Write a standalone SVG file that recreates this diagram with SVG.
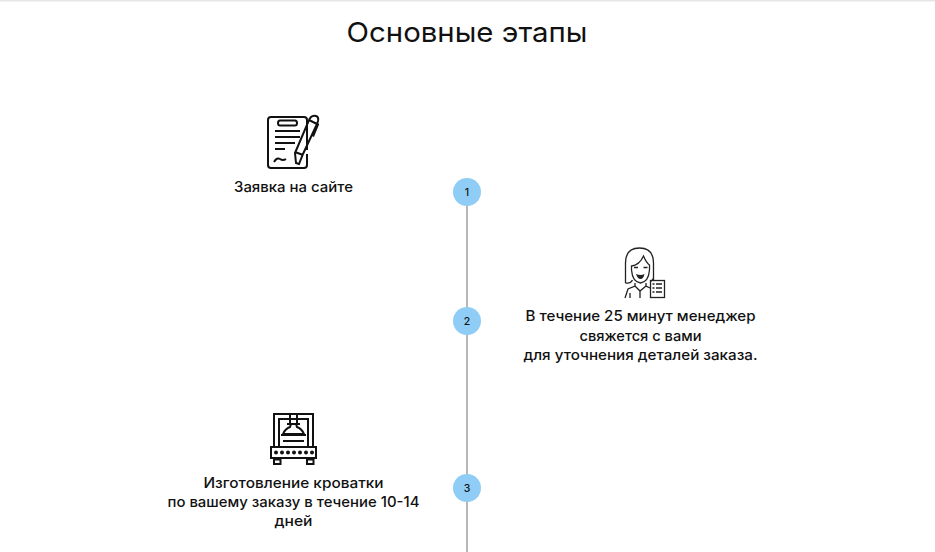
<svg xmlns="http://www.w3.org/2000/svg" width="935" height="552" viewBox="0 0 935 552">
<style>
text{font-family:"Inter","Noto Sans","Liberation Sans",sans-serif;fill:#111;text-anchor:middle}
.t{font-size:14.500px;font-weight:500}
.n{font-size:10.500px;font-weight:500}
.c{fill:#8fcdf7}
.k{fill:none;stroke:#111;stroke-width:2}
.k1{fill:none;stroke:#222;stroke-width:1.300}
</style>
<rect width="935" height="552" fill="#fff"/>
<rect width="935" height="1.5" fill="#e6e6e6"/>
<text x="467" y="42" font-size="27.500" textLength="241" lengthAdjust="spacingAndGlyphs" style="font-weight:400">Основные этапы</text>
<g id="connectors"><path d="M467 192V552" stroke="#aaa" stroke-width="1.700" fill="none"/></g>
<g id="node-1">
<circle class="c" cx="467" cy="192" r="14"/><text class="n" x="467" y="196">1</text>
<path class="k" d="M307 150V120q0-3-3-3H271q-3 0-3 3V165q0 3 3 3H304q3 0 3-3V154" stroke-width="1.800"/>
<path class="k" d="M280 120.500H295q2 0 2 2.500t-2 2.500H280q-2 0-2-2.500t2-2.500z" stroke-width="1.600"/>
<path class="k" d="M275 131H300M275 137H300M275 143H295M275 149H285" stroke-width="1.600"/>
<path class="k" d="M274 162q3-5 6-3t6 0" stroke-width="1.600"/>
<path class="k" d="M309 120l8 4-14 30-4 10-3-1-1-10zM295 152l8 3M309 120l2-3q2-2 5-1 3 1 2 5l-1 3M315 123l3 1.500-5 12" stroke-width="1.600"/>
<text class="t" x="293.500" y="192" textLength="119" lengthAdjust="spacingAndGlyphs">Заявка на сайте</text>
</g>
<g id="node-2">
<circle class="c" cx="467" cy="321" r="14"/><text class="n" x="467" y="325">2</text>
<path class="k1" d="M625.500 283V263q0-15 14-15t14 15V280M625.500 283q5 1 7-3M653.500 278q-1 3-3 3"/>
<path class="k1" d="M631.500 266q8-1 12-10 3 7 6 9v5q-1 12-9 13-8-1-9-13zM634 267.500h4M643.500 267.500h4"/>
<path d="M636 274q5 2 8.500 0q-1 5-4 5t-4.500-5z" fill="#222"/>
<path class="k1" d="M635 283v3l-7 3-3 9M646 283v3l4 2M635 286l5 5 6-5M640 291v7M630 293v5"/>
<rect class="k1" x="650.500" y="280.500" width="14" height="17"/>
<path class="k1" d="M652.500 284h2M652.500 288h2M652.500 292h2M656 284h6M656 288h6M656 292h6"/>
<text class="t" x="640.500" y="321" textLength="230" lengthAdjust="spacingAndGlyphs">В течение 25 минут менеджер</text>
<text class="t" x="640.500" y="341" textLength="122" lengthAdjust="spacingAndGlyphs">свяжется с вами</text>
<text class="t" x="640.500" y="360" textLength="234" lengthAdjust="spacingAndGlyphs">для уточнения деталей заказа.</text>
</g>
<g id="node-3">
<circle class="c" cx="467" cy="488" r="14"/><text class="n" x="467" y="492">3</text>
<path class="k" d="M274 446V414H313V446M279 446V419H308V446"/>
<path class="k" d="M290 414V424H297V414M287 424H300"/>
<path d="M283 434q2-5 7-7l1-3h5l1 3q5 2 7 7z" fill="#fff" stroke="#111" stroke-width="2"/>
<path class="k" d="M281 435H306M283 441H304"/>
<rect class="k" x="271" y="447" width="45" height="11"/>
<g fill="#111"><circle cx="276" cy="452.500" r="2"/><circle cx="282" cy="452.500" r="2"/><circle cx="288" cy="452.500" r="2"/><circle cx="294" cy="452.500" r="2"/><circle cx="300" cy="452.500" r="2"/><circle cx="306" cy="452.500" r="2"/><circle cx="312" cy="452.500" r="2"/></g>
<path class="k" d="M277 458V460M310 458V460"/>
<rect class="k" x="274" y="459.500" width="6.500" height="4.500"/>
<rect class="k" x="307" y="459.500" width="6.500" height="4.500"/>
<text class="t" x="293.500" y="488" textLength="180" lengthAdjust="spacingAndGlyphs">Изготовление кроватки</text>
<text class="t" x="293.500" y="507" textLength="252" lengthAdjust="spacingAndGlyphs">по вашему заказу в течение 10-14</text>
<text class="t" x="293.500" y="526" textLength="38" lengthAdjust="spacingAndGlyphs">дней</text>
</g>
</svg>
